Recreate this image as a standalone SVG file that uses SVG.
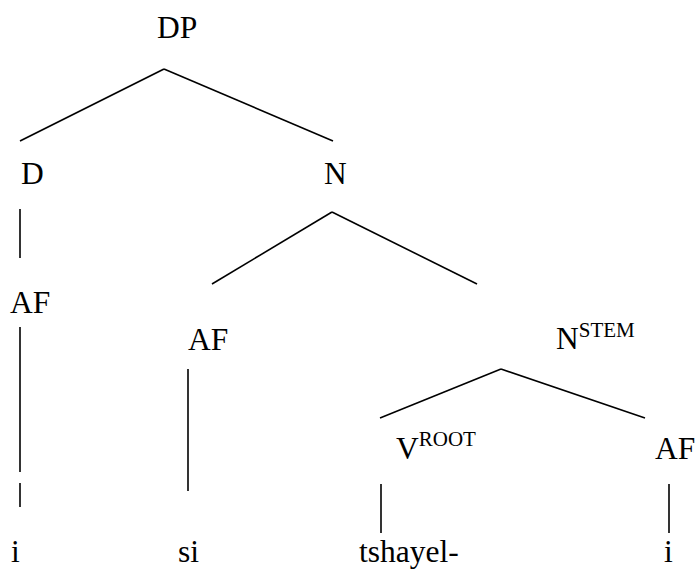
<svg xmlns="http://www.w3.org/2000/svg" width="698" height="575" viewBox="0 0 698 575">
<style>
text{font-family:"Liberation Serif","Times New Roman",serif;font-size:31.5px;fill:#000}
.sup{font-size:21px}
line{stroke:#000;stroke-width:1.6}
</style>
<rect width="698" height="575" fill="#fff"/>
<g id="connectors">
<line x1="164" y1="69" x2="20" y2="141"/>
<line x1="164" y1="69" x2="333" y2="141"/>
<line x1="20" y1="209" x2="20" y2="258"/>
<line x1="20" y1="327" x2="20" y2="472"/>
<line x1="20" y1="483" x2="20" y2="507"/>
<line x1="332" y1="212" x2="212" y2="284"/>
<line x1="332" y1="212" x2="477" y2="284"/>
<line x1="188" y1="369" x2="188" y2="491"/>
<line x1="501" y1="369" x2="380" y2="418"/>
<line x1="501" y1="369" x2="645" y2="418"/>
<line x1="381" y1="484" x2="381" y2="533"/>
<line x1="669" y1="484" x2="669" y2="533"/>
</g>
<g id="DP"><text x="157" y="38">DP</text></g>
<g id="D"><text x="21" y="184">D</text></g>
<g id="N"><text x="324" y="184">N</text></g>
<g id="AF1"><text x="10" y="313">AF</text></g>
<g id="AF2"><text x="188" y="350">AF</text></g>
<g id="NSTEM"><text x="556" y="349">N<tspan class="sup" dy="-12">STEM</tspan></text></g>
<g id="VROOT"><text x="396" y="459">V<tspan class="sup" dy="-13">ROOT</tspan></text></g>
<g id="AF3"><text x="655" y="459">AF</text></g>
<g id="w1"><text x="11" y="562">i</text></g>
<g id="w2"><text x="178" y="562">si</text></g>
<g id="w3"><text x="359" y="562">tshayel-</text></g>
<g id="w4"><text x="664" y="562">i</text></g>
</svg>
